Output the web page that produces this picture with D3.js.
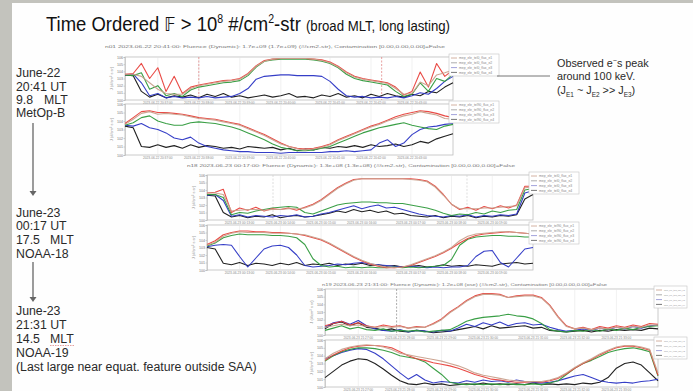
<!DOCTYPE html>
<html><head><meta charset="utf-8">
<script src="https://cdn.jsdelivr.net/npm/d3@7"></script>
<style>body{margin:0;background:#fff;overflow:hidden} svg{display:block}</style>
</head><body>
<svg id="c" width="693" height="391"></svg>
<script>
// ---------- DATA (log10 J, evenly sampled over each pass) ----------
const p1TopRed   = [3.6,3.7,5.1,3.0,4.5,1.2,3.3,0.9,1.8,2.1,2.3,2.5,2.7,2.8,3.0,3.7,4.8,5.5,5.7,5.8,5.8,5.8,5.8,5.7,5.6,5.3,4.7,3.9,3.3,3.0,2.8,2.6,2.4,1.8,0.7,1.2,3.9,1.8,5.1,3.3,4.2];
const p1TopTan   = [3.6,3.6,3.3,2.4,1.5,0.9,0.8,0.8,1.6,2.0,2.2,2.4,2.6,2.7,2.9,3.6,4.7,5.4,5.7,5.8,5.8,5.8,5.8,5.7,5.5,5.2,4.6,3.8,3.2,2.9,2.7,2.5,2.3,1.6,0.8,0.9,2.5,2.0,3.5,3.8,4.2];
const p1TopGreen = [3.5,3.4,3.8,1.5,2.0,0.6,0.9,0.5,1.4,1.8,2.0,2.2,2.4,2.5,2.7,3.4,4.6,5.4,5.6,5.7,5.7,5.7,5.7,5.6,5.4,5.1,4.5,3.6,3.0,2.7,2.5,2.3,2.1,1.2,0.5,0.8,2.4,1.2,3.0,2.6,3.6];
const p1TopBlue  = [3.5,3.6,2.4,0.6,0.9,0.3,0.5,0.3,0.4,0.3,0.5,0.3,0.4,0.5,0.9,1.6,2.9,3.3,3.4,3.5,3.5,3.4,3.4,3.4,3.3,2.6,1.5,0.6,0.4,0.5,0.3,0.4,0.3,0.5,0.3,0.6,1.0,0.8,1.6,2.6,3.3];
const p1TopBlack = [3.5,3.4,1.2,0.4,0.8,0.3,0.6,0.4,0.7,0.3,0.8,0.5,0.9,0.4,0.6,0.3,0.5,0.7,0.4,0.6,0.9,0.4,0.5,0.3,0.7,0.5,0.9,0.4,0.6,0.3,0.8,0.5,0.9,0.6,0.4,0.8,0.6,1.2,1.0,1.8,2.4];

const p1BotRed   = [3.7,4.4,5.1,5.2,5.0,5.0,4.9,4.8,4.6,4.4,4.3,4.2,4.0,3.8,3.6,3.2,2.8,2.4,1.9,1.4,1.0,0.8,0.7,0.8,1.0,1.3,1.8,2.2,2.6,3.0,3.4,3.7,4.1,4.5,4.8,5.0,5.2,5.1,4.9,4.6,4.4];
const p1BotTan   = [3.6,4.2,4.9,5.1,4.8,4.9,4.8,4.7,4.5,4.3,4.2,4.1,3.9,3.7,3.5,3.1,2.7,2.3,1.8,1.3,1.0,0.7,0.6,0.7,0.9,1.2,1.7,2.1,2.5,2.9,3.3,3.6,4.0,4.3,4.6,4.8,5.1,4.9,4.7,4.3,4.2];
const p1BotGreen = [3.5,3.8,4.4,4.6,4.0,3.7,3.5,3.5,3.8,3.9,3.8,3.7,3.5,3.3,3.0,2.6,2.2,1.8,1.3,0.9,0.7,0.5,0.5,0.6,0.8,1.0,1.4,1.8,2.2,2.6,2.9,3.2,3.4,3.6,3.8,3.5,3.3,3.1,3.0,3.4,3.6];
const p1BotBlue  = [3.5,3.4,3.7,3.2,3.0,2.6,2.0,1.8,2.1,1.4,1.0,0.8,0.6,0.5,0.4,0.4,0.3,0.3,0.3,0.2,0.3,0.3,0.3,0.3,0.3,0.4,0.4,0.5,0.4,0.5,0.6,1.4,1.8,1.0,1.4,2.4,3.0,3.3,3.4,3.6,3.7];
const p1BotBlack = [3.4,3.2,1.0,0.9,1.2,0.9,1.1,0.8,1.2,0.9,1.1,1.0,0.8,0.9,0.7,1.0,0.9,0.8,0.9,0.6,0.8,0.5,0.7,0.6,0.9,0.8,1.0,0.9,1.1,0.9,1.2,1.0,1.1,1.3,1.0,1.2,1.6,1.4,1.9,2.2,2.5];

const p2TopRed   = [3.6,3.7,4.1,1.0,1.6,1.3,1.7,1.2,1.5,1.4,1.6,1.3,1.7,2.1,2.7,3.5,4.3,4.9,5.4,5.5,5.5,5.5,5.5,5.5,5.5,5.5,5.4,5.2,4.5,3.4,2.1,1.4,1.7,1.3,1.8,1.5,1.9,1.6,2.0,4.5,4.5];
const p2TopTan   = [3.6,3.6,3.4,1.2,1.3,1.4,1.4,1.3,1.4,1.4,1.5,1.5,1.6,2.0,2.6,3.4,4.2,4.8,5.3,5.5,5.5,5.5,5.5,5.5,5.5,5.4,5.3,5.1,4.4,3.3,2.1,1.5,1.5,1.5,1.6,1.6,1.7,1.8,1.9,4.3,4.4];
const p2TopGreen = [3.4,3.4,3.0,0.7,1.0,0.9,1.2,1.4,1.6,1.7,1.8,1.7,1.0,0.8,1.2,1.6,2.0,2.2,2.3,2.4,2.4,2.3,2.3,2.2,2.2,2.0,1.8,1.6,1.3,0.9,0.6,0.8,0.7,1.0,0.8,1.2,1.0,1.3,1.4,4.0,4.2];
const p2TopBlue  = [3.3,3.4,2.6,0.5,0.7,0.4,0.6,0.5,0.4,0.6,0.5,0.7,0.4,0.5,0.8,1.0,1.3,1.6,1.9,1.5,1.8,2.0,1.6,1.7,1.4,1.1,0.8,0.6,0.5,0.4,0.6,0.5,0.7,0.4,0.6,0.5,0.7,0.6,0.8,3.6,3.9];
const p2TopBlack = [3.3,3.2,1.0,0.4,0.6,0.3,0.5,0.4,0.7,0.3,0.5,0.6,0.4,0.5,0.7,0.9,1.2,1.0,1.4,1.1,1.3,1.0,1.2,0.8,0.9,0.6,0.5,0.4,0.6,0.3,0.5,0.4,0.6,0.3,0.5,0.4,0.6,0.5,0.7,2.8,3.4];

const p2BotRed   = [3.4,3.9,4.7,5.0,5.2,5.2,5.1,5.1,5.0,5.0,4.9,4.8,4.6,4.3,4.0,3.5,2.9,2.3,1.7,1.2,0.8,0.5,0.3,0.3,0.4,0.6,1.0,1.4,1.8,2.3,2.9,3.6,4.2,4.6,4.8,4.9,5.0,5.1,5.0,4.9,4.8];
const p2BotTan   = [3.3,3.7,4.5,4.9,5.1,5.0,5.0,5.0,4.9,4.9,4.9,4.8,4.7,4.4,4.1,3.6,3.0,2.4,1.8,1.3,0.9,0.6,0.4,0.3,0.4,0.7,1.1,1.5,1.9,2.4,3.0,3.9,4.5,4.8,4.9,5.0,5.1,5.1,5.0,4.9,4.8];
const p2BotGreen = [3.2,3.6,4.3,4.6,4.8,4.7,4.7,4.7,4.6,4.6,4.5,4.3,3.4,1.5,0.6,0.4,0.5,0.3,0.4,0.3,0.4,0.3,0.3,0.4,0.3,0.4,0.3,0.4,0.5,0.6,1.4,3.3,4.1,4.4,4.5,4.6,4.6,4.5,4.5,4.4,4.4];
const p2BotBlue  = [3.1,3.3,3.4,3.3,1.8,0.4,1.6,2.8,3.2,3.3,3.0,2.0,0.6,0.4,0.5,0.6,0.8,0.7,0.9,1.0,0.8,0.7,0.6,0.5,0.4,0.5,0.4,0.3,0.4,0.3,0.4,0.4,0.6,1.8,2.5,2.6,1.0,0.4,1.6,2.8,3.0];
const p2BotBlack = [3.0,2.8,0.9,0.7,1.0,0.6,0.9,0.8,0.6,0.9,0.7,1.0,0.6,0.8,0.7,0.9,0.6,0.8,0.7,0.9,0.6,0.7,0.5,0.6,0.4,0.5,0.6,0.4,0.5,0.7,0.5,0.6,0.5,0.7,0.6,0.5,0.8,0.9,1.0,0.8,0.9];

const p3TopRed   = [1.2,1.5,1.8,1.3,1.6,1.2,1.0,1.3,1.1,1.2,0.9,1.1,1.0,1.5,2.1,3.0,3.7,4.5,5.1,5.4,5.4,5.3,4.9,5.1,5.2,5.2,4.9,3.9,2.4,1.2,0.8,1.0,0.7,1.1,0.9,1.2,1.0,1.3,1.1,1.5,1.4];
const p3TopTan   = [1.0,1.2,1.4,1.2,1.3,1.1,1.0,1.1,1.0,1.1,0.9,1.0,1.0,1.4,2.0,2.9,3.6,4.4,5.0,5.3,5.3,5.2,4.9,5.0,5.1,5.1,4.8,3.8,2.3,1.1,0.8,0.9,0.7,0.9,0.8,1.0,0.9,1.1,1.0,1.3,1.3];
const p3TopGreen = [0.6,0.9,1.2,0.8,1.0,0.7,0.6,0.8,0.5,0.6,0.5,0.6,0.4,0.5,0.6,0.7,1.2,1.8,2.1,2.3,2.4,2.5,2.7,2.5,2.4,2.1,1.5,0.7,0.5,0.4,0.6,0.5,0.7,0.5,0.8,0.6,0.9,0.7,1.0,1.1,1.2];
const p3TopBlue  = [1.0,1.6,1.8,1.4,1.9,1.2,0.8,0.6,0.5,0.7,0.4,0.6,0.5,0.4,0.6,0.5,0.9,1.4,1.1,1.6,1.3,1.7,1.2,1.5,1.6,1.3,1.4,1.0,0.7,0.5,0.6,0.8,0.6,0.9,0.7,1.0,0.8,1.1,0.9,1.2,1.3];
const p3TopBlack = [0.8,1.5,1.7,1.2,1.6,1.0,0.9,0.6,0.8,0.5,0.4,0.6,0.5,0.3,0.4,0.5,0.7,0.9,1.1,0.8,1.2,0.9,1.0,1.1,1.2,0.9,1.0,0.6,0.5,0.4,0.5,0.6,0.4,0.6,0.5,0.7,0.6,0.7,0.6,0.9,0.8];

const p3BotRed   = [3.4,4.1,4.6,5.0,5.2,5.3,5.3,5.2,5.0,4.5,4.0,3.6,3.4,3.1,2.9,2.7,2.4,2.0,1.6,1.3,1.0,0.9,0.7,0.6,0.6,0.7,0.6,0.8,1.1,1.7,2.4,3.0,3.5,4.1,4.6,5.0,5.2,5.2,5.0,4.7,1.5];
const p3BotTan   = [3.6,4.3,4.8,5.1,5.3,5.4,5.3,5.1,4.8,4.3,4.1,3.9,3.7,3.5,3.3,3.0,2.7,2.3,1.8,1.5,1.3,1.1,0.9,0.8,0.7,0.7,0.7,0.9,1.2,1.8,2.5,3.1,3.6,4.2,4.7,5.1,5.3,5.3,5.1,4.8,1.8];
const p3BotGreen = [3.3,4.0,4.5,4.8,5.0,5.0,4.9,4.7,4.4,4.0,3.8,3.6,3.2,2.4,1.6,0.6,0.4,0.3,0.4,0.3,0.4,0.3,0.4,0.3,0.3,0.4,0.3,0.5,0.8,1.6,2.4,3.0,3.4,3.9,4.4,4.7,4.9,5.0,4.8,4.5,1.4];
const p3BotBlue  = [3.6,4.0,4.4,4.7,4.9,4.8,4.3,3.6,2.7,1.8,1.0,1.6,0.9,0.5,0.7,0.6,0.5,0.8,0.6,0.9,0.7,0.8,0.6,0.9,0.7,0.6,0.5,0.6,0.8,1.1,1.4,1.6,1.2,0.8,0.6,0.5,0.6,0.5,0.7,0.8,1.0];
const p3BotBlack = [1.2,2.0,2.8,3.3,3.6,3.5,3.0,2.3,1.5,0.8,0.4,0.3,0.5,0.3,0.4,0.2,0.3,0.4,0.3,0.5,0.3,0.4,0.3,0.4,0.3,0.5,0.3,0.4,0.3,0.4,0.3,0.5,0.4,0.6,1.2,2.4,3.0,3.2,2.8,1.8,0.8];

const yTickExps = [0,1,2,3,4,5,6];
const xTickIdx = [4,9,14,19,25,30,35];
const p1TickLabels = ["2023-06-22 20:37:00","2023-06-22 20:38:00","2023-06-22 20:39:00","2023-06-22 20:40:00","2023-06-22 20:41:00","2023-06-22 20:42:00","2023-06-22 20:43:00"];
const p2TickLabels = ["2023-06-23 00:13:00","2023-06-23 00:14:00","2023-06-23 00:15:00","2023-06-23 00:16:00","2023-06-23 00:17:00","2023-06-23 00:18:00","2023-06-23 00:19:00"];
const p3TickLabels = ["2023-06-23 21:27:00","2023-06-23 21:28:00","2023-06-23 21:29:00","2023-06-23 21:30:00","2023-06-23 21:31:00","2023-06-23 21:32:00","2023-06-23 21:33:00"];
const p1Markers = [9, 31.3];
const p2Markers = [8.1, 31.9];
const p3Markers = [8.6];
const legendTop = ["mep_ele_tel0_flux_e1","mep_ele_tel0_flux_e2","mep_ele_tel0_flux_e3","mep_ele_tel0_flux_e4"];
const legendBot = ["mep_ele_tel90_flux_e1","mep_ele_tel90_flux_e2","mep_ele_tel90_flux_e3","mep_ele_tel90_flux_e4"];
const p1Title = "n01 2023-06-22 20:41:00: Fluence (Dynamic): 1.7e+09 (1.7e+09) (#/cm2-str), Contamination [0.00,0.00,0.00]=False";
const p2Title = "n18 2023-06-23 00:17:00: Fluence (Dynamic): 1.3e+08 (1.3e+08) (#/cm2-str), Contamination [0.00,0.00,0.00]=False";
const p3Title = "n19 2023-06-23 21:31:00: Fluence (Dynamic): 1.2e+08 (ose) (#/cm2-str), Contamination [0.00,0.00,0.00]=False";

// ---------- DRAW ----------
const COL = {red:"#e8413c", tan:"#c9a08c", green:"#2f9a3c", blue:"#2a34c4", black:"#151515"};
const svg = d3.select("#c");
svg.append("rect").attr("width",693).attr("height",391).attr("fill","#c3c3bd");
svg.append("rect").attr("x",12).attr("y",3).attr("width",681).attr("height",388).attr("fill","#fefefe");

const FONT = "Liberation Sans, Arial, sans-serif";

function drawPanel(p){
  const n = p.series[0].data.length;
  const x = d3.scaleLinear().domain([0,n-1]).range([p.x0,p.x1]);
  const y = d3.scaleLinear().domain([0,6]).range([p.y1,p.y0]);
  const g = svg.append("g");
  g.append("rect").attr("x",p.x0).attr("y",p.y0).attr("width",p.x1-p.x0).attr("height",p.y1-p.y0)
    .attr("fill","#fff").attr("stroke","#bdbdbd").attr("stroke-width",0.8);
  g.selectAll(".vg").data(xTickIdx).join("line")
    .attr("x1",d=>x(d)).attr("x2",d=>x(d)).attr("y1",p.y0).attr("y2",p.y1)
    .attr("stroke","#e2e2e2").attr("stroke-width",0.5);
  g.selectAll(".mk").data(p.markers||[]).join("line")
    .attr("x1",d=>x(d)).attr("x2",d=>x(d)).attr("y1",p.y0).attr("y2",p.y1)
    .attr("stroke",p.markerColor).attr("stroke-width",0.7).attr("stroke-dasharray","2,1.5");
  const ya = d3.axisLeft(y).tickValues(yTickExps).tickSize(1.5).tickFormat(d=>"10"+d);
  const ag = g.append("g").attr("transform",`translate(${p.x0},0)`).call(ya);
  ag.select(".domain").attr("stroke","#bbb").attr("stroke-width",0.6);
  ag.selectAll("line").attr("stroke","#aaa").attr("stroke-width",0.5);
  ag.selectAll("text").attr("font-size",3.6).attr("fill","#777").attr("font-family",FONT).attr("x",-2);
  g.append("text").attr("transform",`translate(${p.x0-12},${(p.y0+p.y1)/2}) rotate(-90)`)
    .attr("text-anchor","middle").attr("font-size",4).attr("fill","#888").attr("font-family",FONT)
    .text("J (#/cm² s sr)");
  g.selectAll(".xt").data(xTickIdx).join("text")
    .attr("x",d=>x(d)).attr("y",p.y1+4).attr("text-anchor","middle")
    .attr("font-size",3.2).attr("fill","#888").attr("font-family",FONT)
    .text((d,i)=>p.ticks[i]);
  const line = d3.line().x((d,i)=>x(i)).y(d=>y(d));
  p.series.forEach(s=>{
    g.append("path").attr("d",line(s.data)).attr("fill","none")
      .attr("stroke",COL[s.c]).attr("stroke-width",s.w||1.1).attr("stroke-linejoin","round").attr("opacity",0.95);
  });
  const lw = p.legendW, lx = p.x1-4, ly = p.y0-3;
  const lg = g.append("g");
  lg.append("rect").attr("x",lx).attr("y",ly).attr("width",lw).attr("height",22)
    .attr("fill","#fff").attr("stroke","#c4c4c4").attr("stroke-width",0.6);
  p.legend.forEach((t,i)=>{
    const cy = ly+4+i*4.8;
    lg.append("line").attr("x1",lx+2).attr("x2",lx+8).attr("y1",cy).attr("y2",cy)
      .attr("stroke",["#c9a08c","#999","#8a8ad0","#555"][i]).attr("stroke-width",0.8);
    const tx = lg.append("text").attr("x",lx+10).attr("y",cy+1.2).attr("font-size",3.4).attr("fill","#888")
      .attr("font-family",FONT).text(t);
    const avail = lw-12, w = tx.node().getComputedTextLength();
    if (w > avail) tx.attr("font-size", 3.4*avail/w);
  });
}

function series(r,t,gr,b,k){
  return [{c:"black",data:k},{c:"blue",data:b},{c:"green",data:gr},{c:"red",data:r},{c:"tan",data:t}];
}

function groupTitle(txt,x,y,len){
  svg.append("text").attr("x",x).attr("y",y).attr("font-size",4.2).attr("fill","#777")
    .attr("font-family",FONT).attr("textLength",len).attr("lengthAdjust","spacingAndGlyphs").text(txt);
}

groupTitle(p1Title,105,48,340);
drawPanel({x0:125,x1:453,y0:57,y1:100,series:series(p1TopRed,p1TopTan,p1TopGreen,p1TopBlue,p1TopBlack),
  markers:p1Markers,markerColor:"#e07a7a",ticks:p1TickLabels,legend:legendTop,legendW:50});
drawPanel({x0:125,x1:453,y0:104,y1:155,series:series(p1BotRed,p1BotTan,p1BotGreen,p1BotBlue,p1BotBlack),
  markers:[],markerColor:"#e07a7a",ticks:p1TickLabels,legend:legendBot,legendW:50});

groupTitle(p2Title,187,167,328);
drawPanel({x0:207,x1:533,y0:175,y1:220,series:series(p2TopRed,p2TopTan,p2TopGreen,p2TopBlue,p2TopBlack),
  markers:p2Markers,markerColor:"#cfcfcf",ticks:p2TickLabels,legend:legendTop,legendW:50});
drawPanel({x0:207,x1:533,y0:225,y1:270,series:series(p2BotRed,p2BotTan,p2BotGreen,p2BotBlue,p2BotBlack),
  markers:[],markerColor:"#cfcfcf",ticks:p2TickLabels,legend:legendBot,legendW:50});

groupTitle(p3Title,322,286,285);
drawPanel({x0:325,x1:658,y0:289,y1:335,series:series(p3TopRed,p3TopTan,p3TopGreen,p3TopBlue,p3TopBlack),
  markers:p3Markers,markerColor:"#888",ticks:p3TickLabels,legend:legendTop,legendW:33});
drawPanel({x0:325,x1:658,y0:340,y1:387,series:series(p3BotRed,p3BotTan,p3BotGreen,p3BotBlue,p3BotBlack),
  markers:[],markerColor:"#888",ticks:p3TickLabels,legend:legendBot,legendW:33});

// ---------- TEXT ----------
const titleG = svg.append("g").attr("transform","translate(46,31) scale(0.88,1)");
const title = titleG.append("text").attr("x",0).attr("y",0).attr("font-family",FONT).attr("fill","#111").attr("font-size",21);
title.append("tspan").text("Time Ordered ");
title.append("tspan").attr("font-family","DejaVu Sans, sans-serif").attr("font-size",19).text("𝔽");
title.append("tspan").text(" > 10");
title.append("tspan").attr("font-size",12).attr("dy",-8).text("8");
title.append("tspan").attr("dy",8).text(" #/cm");
title.append("tspan").attr("font-size",12).attr("dy",-8).text("2");
title.append("tspan").attr("dy",8).text("-str ");
title.append("tspan").attr("font-size",15).text("(broad MLT, long lasting)");

const LF = 12.3;
const leftLines = [
  {y:77,t:"June-22"},{y:91,t:"20:41 UT"},{y:104,t:"9.8",m:44},{y:117,t:"MetOp-B"},
  {y:217,t:"June-23"},{y:230,t:"00:17 UT"},{y:244,t:"17.5",m:50},{y:258,t:"NOAA-18"},
  {y:315,t:"June-23"},{y:329,t:"21:31 UT"},{y:343,t:"14.5",m:50,u:true},{y:357,t:"NOAA-19"},
  {y:371,t:"(Last large near equat. feature outside SAA)"}
];
leftLines.forEach(l=>{
  svg.append("text").attr("x",16).attr("y",l.y).attr("font-family",FONT).attr("font-size",LF).attr("fill","#2a2a2a").text(l.t);
  if(l.m){
    svg.append("text").attr("x",l.m).attr("y",l.y).attr("font-family",FONT).attr("font-size",LF).attr("fill","#2a2a2a").text("MLT");
    if(l.u) svg.append("line").attr("x1",l.m).attr("x2",l.m+24).attr("y1",l.y+2.5).attr("y2",l.y+2.5)
      .attr("stroke","#d88").attr("stroke-width",0.8).attr("stroke-dasharray","1.5,1");
  }
});
[[123,196],[262,302]].forEach(([a,b])=>{
  svg.append("line").attr("x1",33).attr("x2",33).attr("y1",a).attr("y2",b-4).attr("stroke","#666").attr("stroke-width",1.3);
  svg.append("path").attr("d",`M29.5,${b-5} L36.5,${b-5} L33,${b} Z`).attr("fill","#666");
});

// annotation
svg.append("line").attr("x1",497).attr("x2",550).attr("y1",76).attr("y2",76).attr("stroke","#666").attr("stroke-width",0.9);
const AF = 10.8;
const an1 = svg.append("text").attr("x",557).attr("y",67).attr("font-family",FONT).attr("font-size",AF).attr("fill","#2a2a2a");
an1.append("tspan").text("Observed e");
an1.append("tspan").attr("font-size",7).attr("dy",-4).text("−");
an1.append("tspan").attr("dy",4).text("s peak");
svg.append("text").attr("x",557).attr("y",80).attr("font-family",FONT).attr("font-size",AF).attr("fill","#2a2a2a").text("around 100 keV.");
const an3 = svg.append("text").attr("x",557).attr("y",94).attr("font-family",FONT).attr("font-size",AF).attr("fill","#2a2a2a");
an3.append("tspan").text("(J");
an3.append("tspan").attr("font-size",6.5).attr("dy",2.5).text("E1");
an3.append("tspan").attr("dy",-2.5).text(" ~ J");
an3.append("tspan").attr("font-size",6.5).attr("dy",2.5).text("E2");
an3.append("tspan").attr("dy",-2.5).text(" >> J");
an3.append("tspan").attr("font-size",6.5).attr("dy",2.5).text("E3");
an3.append("tspan").attr("dy",-2.5).text(")");
</script>
</body></html>
